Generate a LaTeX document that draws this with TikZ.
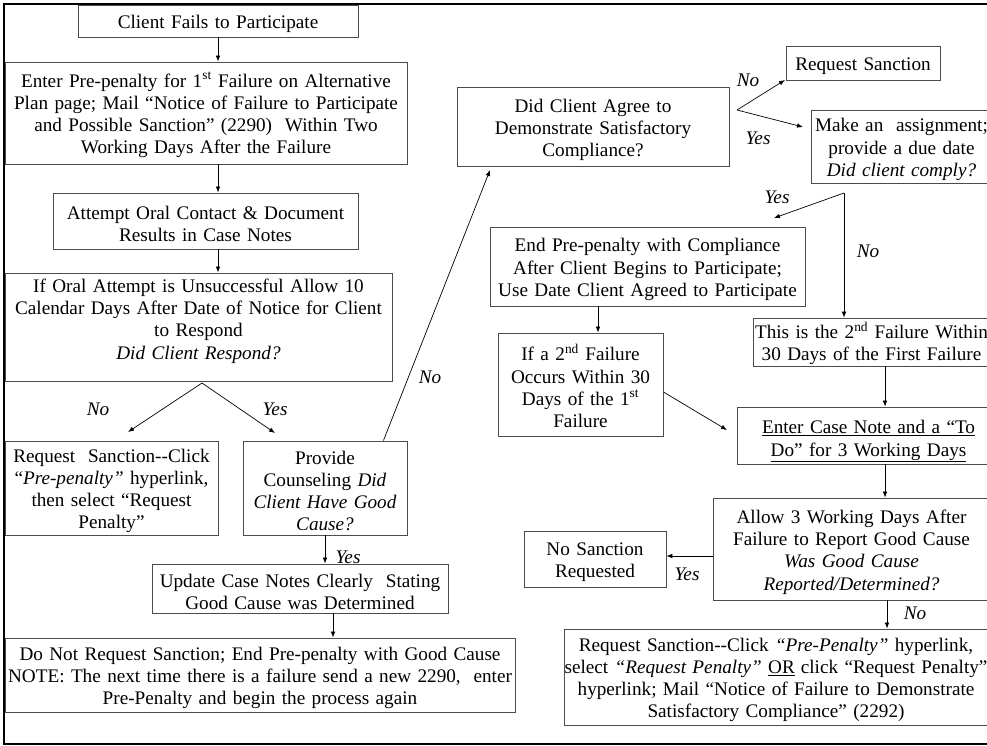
\documentclass[tikz,border=0pt]{standalone}
\usepackage{fontspec}
\setmainfont{Liberation Serif}
\usetikzlibrary{arrows.meta,calc}
\begin{document}
\begin{tikzpicture}[x=1pt,y=-1pt,
  box/.style={draw=black!70, line width=0.9pt, inner sep=0pt, align=center,
    font=\fontsize{19.2}{22.2}\selectfont,
    execute at begin node={\rule{0pt}{19.5pt}}},
  lbl/.style={font=\fontsize{19.2}{22.2}\selectfont\itshape, inner sep=0pt},
  arr/.style={-{Latex[length=6pt,width=4.6pt]}, line width=0.7pt}]
\useasboundingbox (0,0) rectangle (987,745);
\draw[line width=1.3pt] (4,4) rectangle (1000,744);

% left column
\node[box, text width=280pt, minimum height=32pt] (cf) at (218,21) {Client Fails to Participate};
\node[box, text width=402pt, minimum height=102pt] (ep) at (206,113)
  {Enter Pre-penalty for 1\textsuperscript{st} Failure on Alternative\\
   Plan page; Mail “Notice of Failure to Participate\\
   and Possible Sanction” (2290)\ \ Within Two\\
   Working Days After the Failure};
\node[box, text width=305pt, minimum height=56pt] (ao) at (205.5,221)
  {Attempt Oral Contact \& Document\\ Results in Case Notes};
\node[box, text width=387pt, minimum height=102pt] (io) at (198.5,327)
  {If Oral Attempt is Unsuccessful Allow 10\\
   Calendar Days After Date of Notice for Client\\
   to Respond\\
   \textit{Did Client Respond?}\rule[-22pt]{0pt}{0pt}};
\node[box, text width=213pt, minimum height=94pt] (rs1) at (111.5,488)
  {Request\ \ Sanction-{}-Click\\
   “\textit{Pre-penalty”} hyperlink,\\
   then select “Request\\ Penalty”};
\node[box, text width=164pt, minimum height=94pt] (pc) at (325,488)
  {Provide\\ Counseling \textit{Did}\\ \textit{Client Have Good}\\ \textit{Cause?}};
\node[box, text width=296pt, minimum height=49pt] (uc) at (300,588.5)
  {Update Case Notes Clearly\ \ Stating\\ Good Cause was Determined};
\node[box, text width=510pt, minimum height=74pt] (dn) at (260,675)
  {Do Not Request Sanction; End Pre-penalty with Good Cause\\
   NOTE: The next time there is a failure send a new 2290,\ \ enter\\
   Pre-Penalty and begin the process again};

% right part
\node[box, text width=272pt, minimum height=79pt] (da) at (593,126.5)
  {Did Client Agree to\\ Demonstrate Satisfactory\\ Compliance?};
\node[box, text width=154pt, minimum height=34pt] (rs2) at (863,63) {Request Sanction};
\node[box, text width=181pt, minimum height=73pt] (ma) at (901.5,146.5)
  {Make an\ \ assignment;\\ provide a due date\\ \textit{Did client comply?}};
\node[box, text width=315pt, minimum height=79pt] (ep2) at (647.5,266.5)
  {End Pre-penalty with Compliance\\
   After Client Begins to Participate;\\
   Use Date Client Agreed to Participate};
\node[box, text width=165pt, minimum height=103pt] (i2) at (580.5,384.5)
  {If a 2\textsuperscript{nd} Failure\\ Occurs Within 30\\
   Days of the 1\textsuperscript{st}\\ Failure};
\node[box, text width=237pt, minimum height=48pt] (t2) at (871.5,342)
  {This is the 2\textsuperscript{nd} Failure Within\\ 30 Days of the First Failure};
\node[box, text width=263pt, minimum height=57pt] (ec) at (868.5,435.5)
  {\rule{0pt}{25pt}\underline{Enter Case Note and a “To}\\ \underline{Do” for 3 Working Days}};
\node[box, text width=277pt, minimum height=102pt] (al) at (851.5,549)
  {Allow 3 Working Days After\\ Failure to Report Good Cause\\
   \textit{Was Good Cause}\\ \textit{Reported/Determined?}};
\node[box, text width=142pt, minimum height=56pt] (ns) at (595,559)
  {No Sanction\\ Requested};
\node[box, text width=424pt, minimum height=96pt] (rs3) at (776,677)
  {Request Sanction-{}-Click \textit{“Pre-Penalty”} hyperlink,\\
   select \textit{“Request Penalty”} \underline{OR}\hspace{6pt}click “Request Penalty”\\
   hyperlink; Mail “Notice of Failure to Demonstrate\\
   Satisfactory Compliance” (2292)};

% branch points
\coordinate (v1) at (202,383);
\coordinate (v1a) at (128,432);
\coordinate (v1b) at (275,433);
\coordinate (pcx) at (490,170);
\coordinate (v2) at (737,110);
\coordinate (v2a) at (785,80);
\coordinate (v2b) at (803,127);
\coordinate (v3) at (844,193);
\coordinate (v3a) at (774,218);
\coordinate (i2t) at (727,430);

% connectors
\draw[arr] (cf.south) -- (cf.south |- ep.north);
\draw[arr] (ep.south -| cf.south) -- (ao.north -| cf.south);
\draw[arr] (ao.south -| cf.south) -- (io.north -| cf.south);
\draw[arr] (v1) -- (v1a);
\draw[arr] (v1) -- (v1b);
\draw[arr] ([xshift=-24pt]pc.north east) -- (pcx);
\draw[arr] (pc.south) -- (pc.south |- uc.north);
\draw[arr] ([xshift=33pt]uc.south) -- ([xshift=33pt]uc.south |- dn.north);
\draw[arr] (v2) -- (v2a);
\draw[arr] (v2) -- (v2b);
\draw[arr] (v3) -- (v3a);
\draw[arr] (v3) -- (v3 |- t2.north);
\draw[arr] ([xshift=-49.5pt]ep2.south) -- ([xshift=-49.5pt]ep2.south |- i2.north);
\draw[arr] ([yshift=-7.5pt]i2.east) -- (i2t);
\draw[arr] ([xshift=13.5pt]t2.south) -- ([xshift=13.5pt]t2.south |- ec.north);
\draw[arr] ([xshift=16.5pt]ec.south) -- ([xshift=16.5pt]ec.south |- al.north);
\draw[arr] ([yshift=-7pt]al.west) -- ([yshift=-7pt]al.west -| ns.east);
\draw[arr] ([xshift=35.5pt]al.south) -- ([xshift=35.5pt]al.south |- rs3.north);

% labels
\node[lbl] (l1) at (98,409) {No};
\node[lbl] (l2) at (275,409) {Yes};
\node[lbl] (l3) at (430,377) {No};
\node[lbl] (l4) at (348,557) {Yes};
\node[lbl] (l5) at (748,80) {No};
\node[lbl] (l6) at (758,138) {Yes};
\node[lbl] (l7) at (777,197) {Yes};
\node[lbl] (l8) at (868,251) {No};
\node[lbl] (l9) at (687,574) {Yes};
\node[lbl] (l10) at (915,613) {No};
\end{tikzpicture}
\end{document}
